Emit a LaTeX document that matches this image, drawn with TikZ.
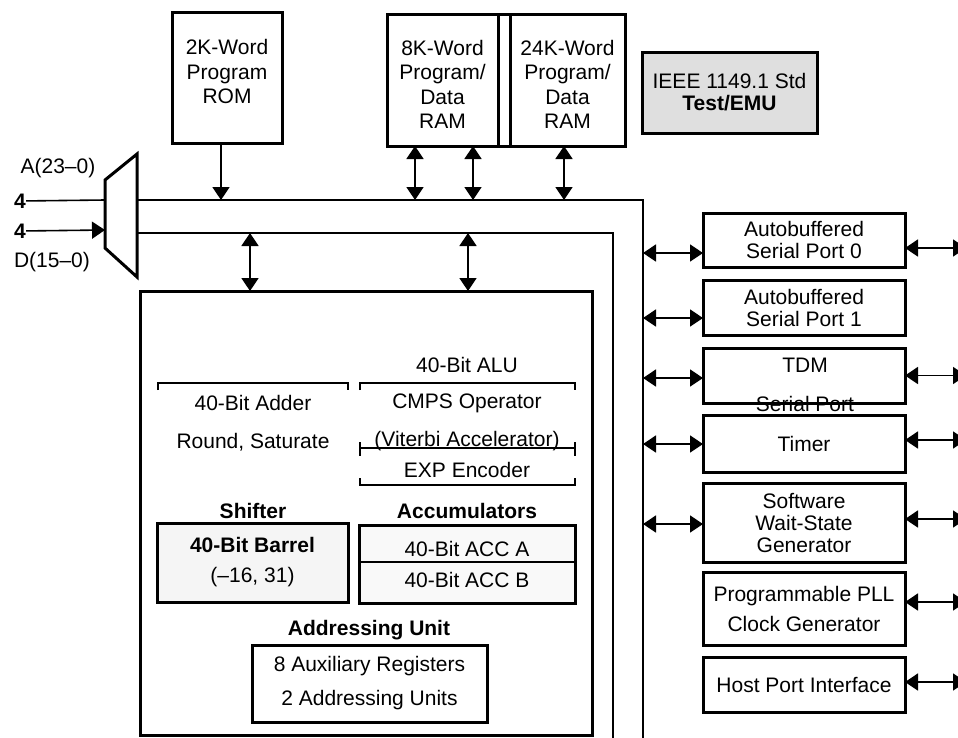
\documentclass[tikz,border=0pt]{standalone}
\usepackage{fontspec}
\setmainfont{Liberation Sans}
\usetikzlibrary{arrows.meta}

\tikzset{
  blk/.style={draw, line width=3pt, inner sep=0pt, outer sep=0pt, align=center},
  port/.style={blk, minimum width=202pt},
  lbl/.style={inner sep=0pt, align=center},
  bus/.style={line width=1.6pt},
  link/.style={line width=1.6pt, <->},
  brk/.style={line width=2.6pt},
}

\begin{document}
\begin{tikzpicture}[x=1pt, y=-1pt, >={Triangle[length=13pt, width=17pt]},
    font=\fontsize{21}{24.5}\selectfont]
    \useasboundingbox (0,0) rectangle (958,737);
    % memories and test port
    \node[blk, minimum width=110pt, minimum height=131pt, text depth=12pt] (rom) at (227,77.5) {2K-Word\\Program\\ROM};
    \node[blk, minimum width=111pt, minimum height=132pt, text height=97.5pt] (ram8) at (442.5,80) {8K-Word\\Program/\\Data\\RAM};
    \node[blk, minimum width=115pt, minimum height=132pt, text height=97.5pt] (ram24) at (567.5,80) {24K-Word\\Program/\\Data\\RAM};
    \draw[line width=3pt] (ram8.north east) -- (ram24.north west)
        (ram8.south east) -- (ram24.south west);
    \node[blk, fill=gray!25, minimum width=175pt, minimum height=81pt,
        font=\fontsize{21}{22}\selectfont] (jtag) at (729.5,92.5) {IEEE 1149.1 Std\\\textbf{Test/EMU}};

    % external bus mux
    \draw[line width=3pt] (105,180) -- (137,154) -- (137,277) -- (105,248) -- cycle;
    \node[lbl] (alab) at (58,168) {A(23--0)};
    \node[lbl] (dlab) at (52,262) {D(15--0)};
    \node[lbl, font=\fontsize{21}{24}\selectfont\bfseries] (na) at (20,201) {4};
    \node[lbl, font=\fontsize{21}{24}\selectfont\bfseries] (nd) at (20,231) {4};
    \coordinate (muxa) at (105,200);
    \coordinate (muxd) at (105,230);
    \draw[bus] (na) -- (muxa);
    \draw[bus, ->] (nd) -- (muxd);

    % internal buses
    \coordinate (aout) at (137,200);
    \coordinate (dout) at (137,233);
    \coordinate (abus) at (643,200);
    \coordinate (dbus) at (613,233);
    \coordinate (aend) at (643,745);
    \coordinate (dend) at (613,745);
    \draw[bus] (aout) -- (abus) -- (aend);
    \draw[bus] (dout) -- (dbus) -- (dend);

    \coordinate (r1) at (221,200);
    \coordinate (m1) at (415,200);
    \coordinate (m2) at (473,200);
    \coordinate (m3) at (564,200);
    \draw[bus, ->] (rom.south -| r1) -- (r1);
    \draw[link] (m1 |- ram8.south) -- (m1);
    \draw[link] (m2 |- ram8.south) -- (m2);
    \draw[link] (m3 |- ram24.south) -- (m3);

    % CPU core
    \node[blk, minimum width=452pt, minimum height=444pt] (core) at (366,513) {};
    \coordinate (c1) at (250,233);
    \coordinate (c2) at (468,233);
    \draw[link] (c1) -- (c1 |- core.north);
    \draw[link] (c2) -- (c2 |- core.north);

    \node[lbl] (alu) at (467,365) {40-Bit ALU};
    \draw[brk] (158,390) -- (158,383) -- (348,383) -- (348,390);
    \draw[brk] (360,390) -- (360,383) -- (575,383) -- (575,390);
    \node[lbl] (adder) at (253,403) {40-Bit Adder};
    \node[lbl] (cmps) at (467,403) {CMPS Operator};
    \node[lbl] (rnd) at (253,442) {Round, Saturate};
    \node[lbl] (vit) at (467,441) {(Viterbi Accelerator)};
    \draw[brk] (360,442) -- (360,456);
    \draw[brk] (575,442) -- (575,456);
    \draw[brk] (360,448) -- (575,448);
    \node[lbl] (exp) at (467,470) {EXP Encoder};
    \draw[brk] (360,478) -- (360,485) -- (575,485) -- (575,478);

    \node[lbl, font=\fontsize{21}{24}\selectfont\bfseries] (shf) at (253,511) {Shifter};
    \node[lbl, font=\fontsize{21}{24}\selectfont\bfseries] (accl) at (467,511) {Accumulators};
    \node[blk, fill=gray!8, minimum width=191pt, minimum height=79pt,
        font=\fontsize{21}{30}\selectfont] (brl) at (252.5,562.5) {\textbf{40-Bit Barrel}\\(--16, 31)};
    \node[blk, fill=gray!5, minimum width=216pt, minimum height=78pt,
        font=\fontsize{21}{31}\selectfont] (acc) at (467,564) {40-Bit ACC A\\40-Bit ACC B};
    \draw[line width=2.6pt] ([yshift=2pt]acc.west) -- ([yshift=2pt]acc.east);
    \node[lbl, font=\fontsize{21}{24}\selectfont\bfseries] (adrl) at (369,630) {Addressing Unit};
    \node[blk, minimum width=235pt, minimum height=77pt,
        font=\fontsize{21}{34}\selectfont] (aux) at (369.5,683.5) {8 Auxiliary Registers\\2 Addressing Units};

    % on-chip peripherals
    \node[port, minimum height=54pt, font=\fontsize{21}{22}\selectfont] (sp0) at (804,240) {Autobuffered\\Serial Port 0};
    \node[port, minimum height=55pt, font=\fontsize{21}{22}\selectfont] (sp1) at (804,307.5) {Autobuffered\\Serial Port 1};
    \node[port, minimum height=55pt] (tdm) at (804,375.5) {};
    \node[lbl] (tdma) at (805,365) {TDM};
    \node[lbl] (tdmb) at (805,404) {Serial Port};
    \node[port, minimum height=57pt] (tmr) at (804,443.5) {Timer};
    \node[port, minimum height=79pt, font=\fontsize{21}{22}\selectfont] (sws) at (804,522.5) {Software\\Wait-State\\Generator};
    \node[port, minimum height=73pt, font=\fontsize{21}{30}\selectfont] (pll) at (804,608.5) {Programmable PLL\\Clock Generator};
    \node[port, minimum height=55pt] (hpi) at (804,684.5) {Host Port Interface};

    \foreach \b/\s in {sp0/-13, sp1/-10.5, tdm/-2.5, tmr/-0.5, sws/-1.5}
        \draw[link] ([yshift=\s pt]\b.west -| abus) -- ([yshift=\s pt]\b.west);
    \coordinate (rim) at (966,0);
    \foreach \b/\s in {sp0/-8, tdm/0, tmr/3.5, sws/3.5, pll/6.5, hpi/2.5}
        \draw[link] ([yshift=\s pt]\b.east) -- ([yshift=\s pt]\b.east -| rim);
\end{tikzpicture}
\end{document}
